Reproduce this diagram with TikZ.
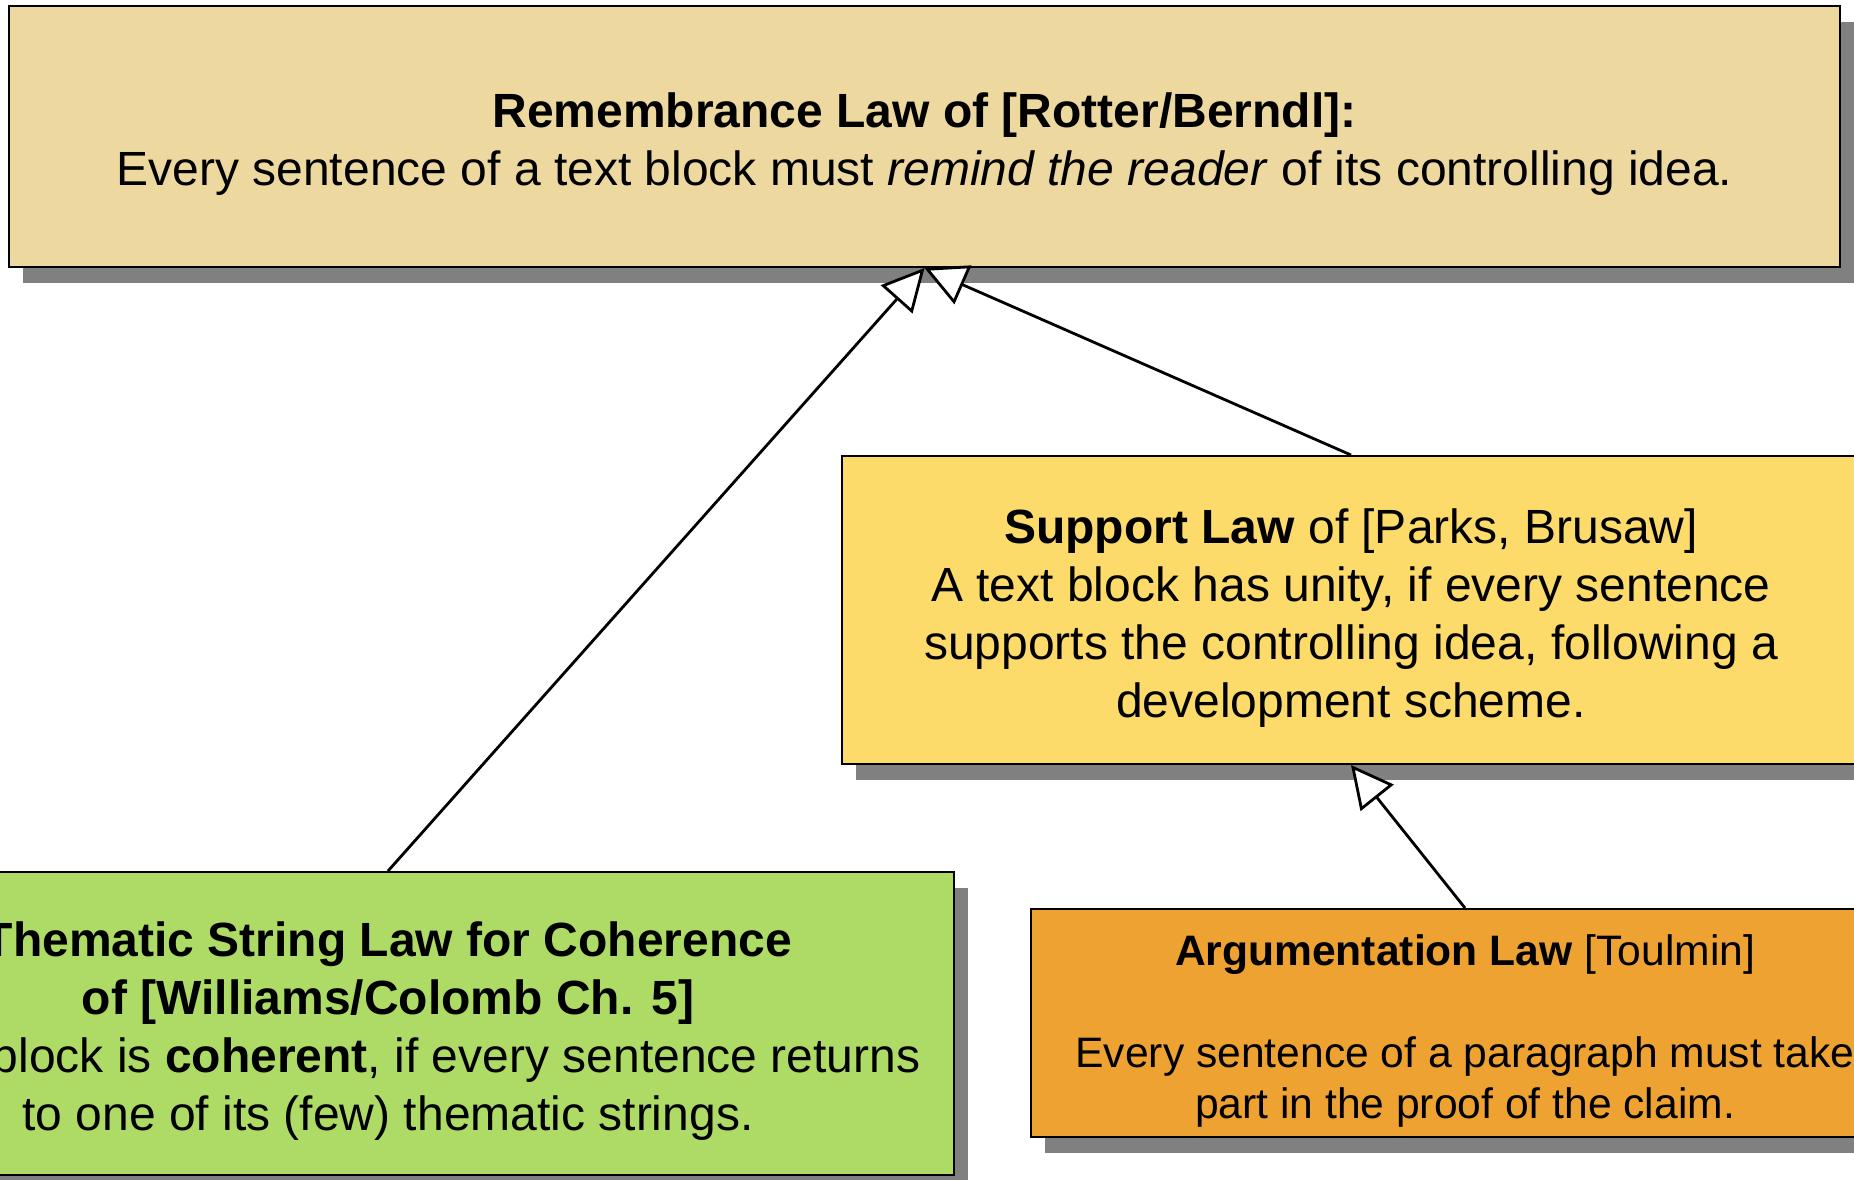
\documentclass[tikz,border=0pt]{standalone}
\usepackage{fontspec}
\setmainfont{Liberation Sans}
\definecolor{LawSand}{RGB}{237,216,160}
\definecolor{LawYellow}{RGB}{252,219,107}
\definecolor{LawGreen}{RGB}{173,219,102}
\definecolor{LawOrange}{RGB}{238,162,50}
\usetikzlibrary{shadows}
\usetikzlibrary{arrows.meta}

\tikzset{
  lawbox/.style={draw=black,line width=1pt,inner sep=0pt,
    drop shadow={shadow xshift=7pt,shadow yshift=-8pt,fill=black!50,opacity=1}},
  lawtext/.style={inner sep=0pt,align=center,font=\fontsize{24}{29}\selectfont},
  inherits/.style={draw=black,line width=1.4pt,
    -{Triangle[length=21pt,width=21pt,fill=white,line width=1.4pt]}}
}

\begin{document}
\begin{tikzpicture}[x=0.5pt,y=-0.5pt]

  \useasboundingbox (0,0) rectangle (1854,1179);
  \clip (0,0) rectangle (1854,1179);

  % boxes
  \node[lawbox,fill=LawSand,minimum width=915.5pt,minimum height=130.5pt] (remember) at (924.5,136.5) {};
  \node[lawbox,fill=LawYellow,minimum width=509pt,minimum height=154pt] (support) at (1351,610) {};
  \node[lawbox,fill=LawGreen,minimum width=566pt,minimum height=151.5pt] (thematic) at (388,1023.5) {};
  \node[lawbox,fill=LawOrange,minimum width=434pt,minimum height=114pt] (argument) at (1465,1023) {};

  % texts
  \node[lawtext] (rememberText) at ([yshift=-4pt]remember.center)
    {\textbf{Remembrance Law of [Rotter/Berndl]:}\\
     Every sentence of a text block must \textit{remind the reader} of its controlling idea.};
  \node[lawtext] (supportText) at ([yshift=-4pt]support.center)
    {\textbf{Support Law} of [Parks, Brusaw]\\
     A text block has unity, if every sentence\\
     supports the controlling idea, following a\\
     development scheme.};
  \node[lawtext] (thematicText) at ([yshift=-4pt]thematic.center)
    {\textbf{Thematic String Law for Coherence}\\
     \textbf{of [Williams/Colomb Ch. 5]}\\
     A text block is \textbf{coherent}, if every sentence returns\\
     to one of its (few) thematic strings.};
  \node[lawtext,font=\fontsize{21.3}{25.5}\selectfont] (argumentText) at ([yshift=-4pt]argument.center)
    {\textbf{Argumentation Law} [Toulmin]\\[25.5pt]
     Every sentence of a paragraph must take\\
     part in the proof of the claim.};

  % generalisations
  \draw[inherits] (thematic.north) -- (remember.south);
  \draw[inherits] (support.north) -- (remember.south);
  \draw[inherits] (argument.north) -- (support.south);

\end{tikzpicture}
\end{document}
